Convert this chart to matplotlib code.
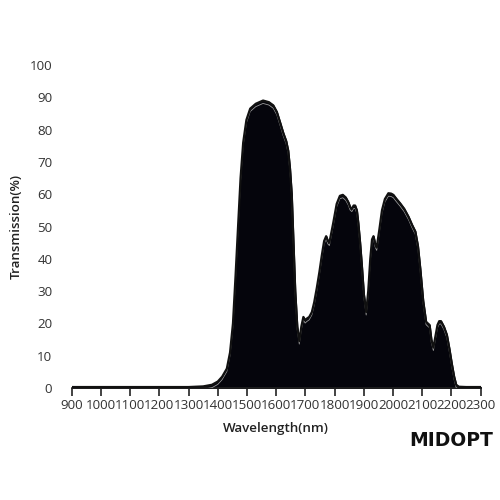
import matplotlib
matplotlib.use("Agg")
import matplotlib.pyplot as plt
import numpy as np

# transmission curve
wavelength = [900, 1000, 1100, 1200, 1300, 1350, 1380, 1400, 1415, 1431, 1442, 1452, 1461,
              1470, 1478, 1487, 1498, 1511, 1530, 1555, 1575, 1590, 1602, 1614, 1624, 1634,
              1641, 1647, 1653, 1659, 1665, 1672, 1679, 1686, 1693, 1699, 1705, 1713, 1722,
              1730, 1739, 1748, 1756, 1764, 1771, 1777, 1782, 1795, 1807, 1818, 1828, 1838,
              1847, 1853, 1859, 1865, 1870, 1876, 1881, 1887, 1893, 1900, 1908, 1915, 1922,
              1928, 1933, 1939, 1944, 1953, 1962, 1972, 1984, 1993, 2001, 2012, 2024, 2038,
              2053, 2065, 2076, 2085, 2093, 2103, 2113, 2119, 2125, 2131, 2138, 2145, 2152,
              2158, 2164, 2174, 2184, 2193, 2201, 2209, 2216, 2225, 2250, 2300]
transmission = [0.3, 0.3, 0.3, 0.3, 0.3, 0.5, 1.0, 2.0, 3.5, 6, 11, 20, 35,
                51, 65, 76, 83, 86.5, 88, 89, 88.5, 87.5, 85.5, 82, 79, 76.5,
                73.5, 68, 60, 45, 30, 19, 14.5, 19, 22, 21, 21.5, 22, 23.5,
                26.5, 31, 36, 41, 45.5, 47, 45.5, 45, 51, 57, 59.5, 59.8, 59,
                57.5, 56, 55.5, 56.5, 56.5, 55, 51, 45, 38, 29, 23.5, 30, 40,
                46, 47, 44.5, 43.5, 49, 55, 58.5, 60.3, 60.2, 59.8, 58.5, 57.2, 55.5,
                53, 50.5, 48.5, 44, 37, 27, 20.5, 20, 19.5, 15, 12.5, 16, 19.5,
                20.7, 20.7, 19, 16.5, 12, 7.5, 3.5, 1, 0.4, 0.3, 0.3]

x_ticks = list(range(900, 2301, 100))
y_ticks = list(range(0, 101, 10))

plt.rcParams['font.family'] = ['Open Sans', 'DejaVu Sans']

fig = plt.figure(figsize=(5, 5), dpi=100)
ax = fig.add_axes([0.1434, 0.224, 0.818, 0.646])

wl = np.array(wavelength)
tr = np.array(transmission)
ax.fill_between(wl, 0, tr, color="#05050c", zorder=2)
ax.plot(wl, tr - 0.9, color="#9a9a9a", lw=0.6, zorder=3)
ax.plot(wl, tr, color="#111111", lw=1.6, zorder=4)

ax.set_xlim(900, 2300)
ax.set_ylim(0, 100)
ax.set_xticks(x_ticks)
ax.set_xticklabels([str(t) for t in x_ticks])
ax.set_yticks(y_ticks)

for s in ["top", "right", "left"]:
    ax.spines[s].set_visible(False)
ax.spines["bottom"].set_color("#222222")
ax.spines["bottom"].set_linewidth(1.2)
ax.spines["bottom"].set_bounds(900, 2300)

ax.tick_params(axis="x", direction="out", length=6, width=1.2, color="#222222",
               labelsize=9.6, labelcolor="#333333", pad=2)
ax.tick_params(axis="y", length=0, labelsize=9.6, labelcolor="#333333", pad=14)

ax.set_xlabel("Wavelength(nm)", fontsize=9.6, color="#222222", labelpad=7,
              fontweight="semibold")
ax.set_ylabel("Transmission(%)", fontsize=9.6, color="#222222", labelpad=5,
              fontweight="semibold")

fig.text(0.986, 0.12, "MIDOPT", ha="right", va="center", fontsize=13.5,
         fontweight="bold", color="#111111", family=["DejaVu Sans"])

fig.savefig("out.png", dpi=100, facecolor="white")
